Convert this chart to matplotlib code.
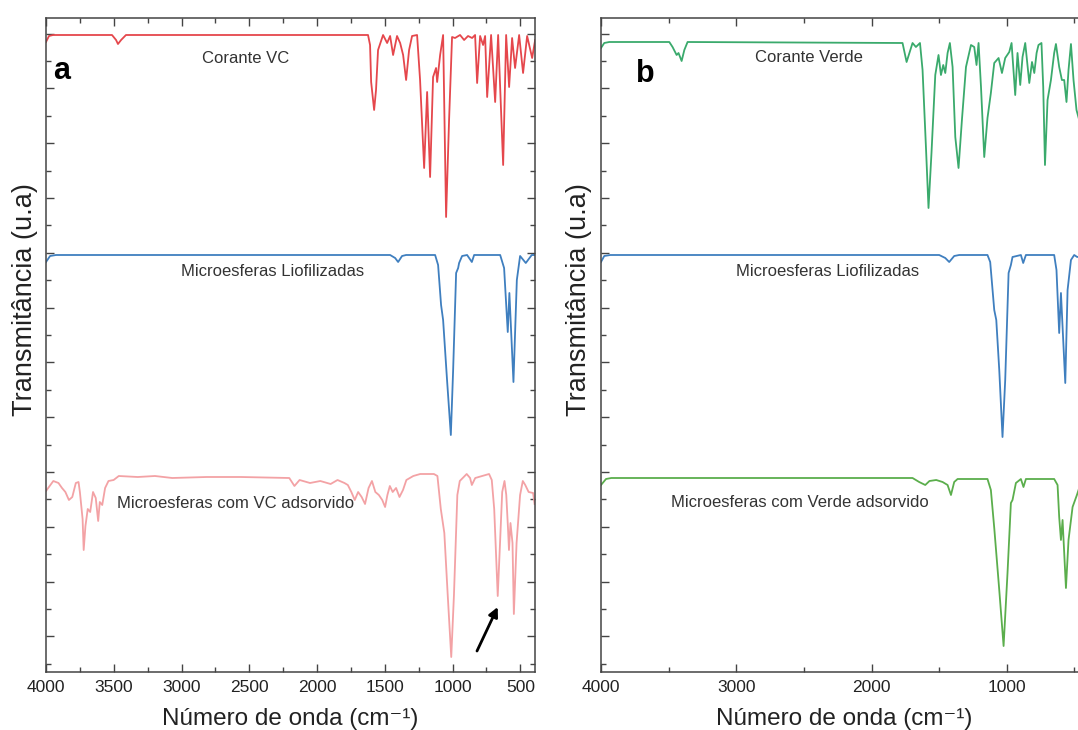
import numpy as np
import matplotlib
matplotlib.use("Agg")
import matplotlib.pyplot as plt
from matplotlib.ticker import MultipleLocator, FixedLocator

plt.rcParams['font.family'] = ['Liberation Sans', 'DejaVu Sans']

# ---------------- spectra (wavenumber cm-1, transmittance a.u.) ----------------
# Panel a
wn_vc = [4000, 3978, 3948, 3513, 3483, 3469, 3446, 3410, 1624, 1609, 1601, 1579, 1565, 1550,
         1513, 1483, 1461, 1439, 1410, 1387, 1365, 1343, 1321, 1299, 1262, 1240, 1210, 1188,
         1166, 1144, 1122, 1114, 1092, 1070, 1048, 1026, 1004, 982, 945, 915, 886, 856, 834,
         819, 797, 775, 760, 745, 716, 686, 664, 627, 605, 583, 561, 539, 509, 480, 450, 413, 391]
t_vc = [63.0, 63.6, 63.7, 63.7, 63.2, 62.8, 63.2, 63.7, 63.7, 62.7, 59.0, 56.2, 58.2, 62.2,
        63.7, 62.9, 63.6, 61.7, 63.6, 62.9, 61.7, 59.2, 62.2, 63.6, 63.7, 59.2, 50.4, 58.0,
        49.5, 59.5, 60.4, 59.0, 61.7, 63.7, 45.5, 55.2, 63.5, 63.4, 63.7, 63.2, 63.6, 63.4, 63.7,
        58.9, 63.6, 62.7, 63.6, 57.5, 63.7, 57.0, 63.7, 50.7, 63.7, 58.5, 63.4, 60.4, 63.7, 59.9,
        63.6, 61.4, 63.2]

wn_lio_a = [4000, 3970, 3926, 1461, 1424, 1402, 1373, 1343, 1129, 1107, 1085, 1070, 1041, 1013,
            996, 974, 959, 952, 930, 893, 858, 841, 649, 620, 593, 581, 551, 526, 502, 460, 416, 391]
t_lio_a = [41.0, 41.6, 41.7, 41.7, 41.4, 41.0, 41.6, 41.7, 41.7, 40.7, 36.7, 35.2, 29.2, 23.7,
           30.2, 39.9, 40.4, 40.9, 41.6, 41.7, 41.0, 41.7, 41.7, 40.4, 34.0, 37.9, 29.0, 39.2,
           41.6, 40.9, 41.7, 41.7]

wn_vc_ads = [4000, 3946, 3908, 3882, 3857, 3831, 3806, 3780, 3760, 3750, 3730, 3722, 3709, 3692,
             3674, 3653, 3633, 3615, 3603, 3585, 3564, 3539, 3501, 3463, 3323, 3196, 3069, 2815,
             2561, 2205, 2167, 2129, 2052, 1976, 1900, 1849, 1798, 1773, 1747, 1722, 1697, 1671,
             1646, 1620, 1595, 1570, 1544, 1519, 1498, 1481, 1463, 1442, 1417, 1392, 1366, 1341,
             1290, 1239, 1138, 1112, 1087, 1061, 1036, 1010, 990, 965, 947, 896, 871, 858, 833,
             782, 731, 711, 693, 667, 650, 634, 617, 604, 591, 584, 573, 558, 548, 528, 502, 482,
             464, 439, 406, 395]
t_vc_ads = [18.1, 19.1, 18.9, 18.4, 18.0, 17.2, 17.5, 18.9, 19.0, 18.0, 15.3, 12.2, 14.6, 16.3,
            16.0, 18.0, 17.4, 15.1, 17.0, 16.7, 18.4, 19.1, 19.2, 19.6, 19.5, 19.6, 19.4, 19.5,
            19.5, 19.4, 18.6, 19.2, 18.9, 19.1, 18.8, 19.2, 18.9, 18.7, 18.0, 17.2, 18.0, 17.5,
            16.8, 18.4, 19.1, 18.0, 17.7, 17.2, 16.5, 17.7, 18.6, 18.0, 18.4, 17.5, 18.2, 19.2,
            19.6, 19.8, 19.8, 19.6, 16.3, 13.9, 7.7, 1.5, 7.7, 17.7, 19.1, 19.8, 19.4, 18.7, 19.4,
            19.6, 19.8, 19.2, 16.3, 7.6, 12.9, 18.0, 19.1, 17.7, 14.3, 12.2, 14.9, 12.9, 5.8, 12.9,
            17.7, 19.1, 18.7, 18.0, 17.9, 16.8]

# Panel b
wn_verde = [4000, 3976, 3939, 3495, 3471, 3441, 3427, 3404, 3384, 3360, 1771, 1741, 1697, 1672,
            1642, 1623, 1598, 1579, 1557, 1529, 1505, 1487, 1470, 1455, 1438, 1421, 1401, 1381,
            1357, 1332, 1302, 1265, 1241, 1224, 1209, 1191, 1167, 1143, 1118, 1093, 1061, 1036,
            1012, 982, 965, 938, 921, 901, 884, 864, 834, 814, 797, 780, 766, 744, 731, 718, 699,
            674, 650, 637, 613, 593, 576, 559, 544, 526, 507, 485, 465]
t_verde = [62.4, 62.9, 63.0, 63.0, 62.5, 61.7, 61.9, 61.1, 62.2, 63.0, 62.9, 61.0, 62.9, 62.5,
           62.9, 60.2, 52.5, 46.4, 51.9, 59.7, 61.7, 59.7, 60.7, 59.9, 61.9, 62.9, 60.5, 53.5,
           50.4, 55.2, 60.5, 62.7, 62.5, 60.7, 62.9, 58.5, 51.5, 55.4, 57.9, 60.9, 61.4, 59.9,
           61.4, 62.0, 62.9, 57.7, 61.9, 58.7, 61.5, 62.9, 58.9, 61.0, 59.9, 61.9, 62.7, 62.9,
           58.5, 50.7, 57.2, 59.2, 61.9, 62.8, 60.5, 59.2, 59.2, 57.0, 60.2, 62.8, 59.2, 56.2, 55.2]

wn_lio_b = [4000, 3976, 3931, 1500, 1455, 1426, 1389, 1352, 1143, 1123, 1093, 1078, 1056, 1032,
            1012, 987, 970, 958, 896, 879, 859, 650, 633, 613, 600, 568, 551, 526, 502, 480, 428]
t_lio_b = [41.0, 41.6, 41.7, 41.7, 41.4, 41.0, 41.6, 41.7, 41.7, 41.0, 36.2, 35.2, 30.2, 23.5,
           29.2, 39.9, 40.7, 41.5, 41.7, 40.9, 41.7, 41.7, 40.2, 33.9, 37.9, 28.9, 38.2, 41.2,
           41.7, 41.5, 41.6]

wn_verde_ads = [4000, 3963, 3924, 1697, 1648, 1603, 1572, 1522, 1475, 1438, 1413, 1389, 1364,
                1143, 1118, 1093, 1056, 1024, 995, 970, 958, 933, 896, 877, 859, 650, 625, 613,
                600, 588, 563, 544, 514, 482, 465]
t_verde_ads = [18.7, 19.3, 19.4, 19.4, 19.0, 18.7, 19.1, 19.2, 19.0, 18.7, 17.7, 19.0, 19.3,
               19.3, 18.2, 14.4, 8.2, 2.6, 9.9, 16.9, 17.2, 18.9, 19.3, 18.5, 19.3, 19.3, 18.7,
               15.5, 13.2, 15.2, 8.4, 13.2, 16.5, 17.7, 18.4]

# ---------------- figure ----------------
W, H = 1078, 730
fig = plt.figure(figsize=(W / 100, H / 100), dpi=100)

def px_axes(left, right, top, bottom):
    return [left / W, 1 - bottom / H, (right - left) / W, (bottom - top) / H]

ax_a = fig.add_axes(px_axes(46, 535, 18, 672))
ax_b = fig.add_axes(px_axes(601, 1088, 18, 672))

lw = 1.3
ax_a.plot(wn_vc, t_vc, color='#E5474C', lw=lw)
ax_a.plot(wn_lio_a, t_lio_a, color='#3F7FBF', lw=lw)
ax_a.plot(wn_vc_ads, t_vc_ads, color='#F3A2A5', lw=lw)

ax_b.plot(wn_verde, t_verde, color='#3AAA6C', lw=lw)
ax_b.plot(wn_lio_b, t_lio_b, color='#3F7FBF', lw=lw)
ax_b.plot(wn_verde_ads, t_verde_ads, color='#5BAE4C', lw=lw)

ax_a.set_xlim(4000, 392)
ax_b.set_xlim(4000, 400)

ytick_minor = np.arange(0.82, 65.4, 2.74)
ytick_major = ytick_minor[1::2]
for ax in (ax_a, ax_b):
    ax.set_ylim(0, 65.4)
    ax.yaxis.set_major_locator(FixedLocator(ytick_major))
    ax.yaxis.set_minor_locator(FixedLocator(ytick_minor[0::2]))
    ax.set_yticklabels([])
    ax.tick_params(which='both', direction='in', top=True, right=True, color='#444444',
                   labelsize=12.5, labelcolor='#222222', pad=6)
    ax.tick_params(which='major', length=6, width=1)
    ax.tick_params(which='minor', length=3.5, width=1)
    for sp in ax.spines.values():
        sp.set_color('#444444')
        sp.set_linewidth(1.1)
    ax.set_xlabel('Número de onda (cm⁻¹)', fontsize=17.5, color='#222222', labelpad=9)
    ax.set_ylabel('Transmitância (u.a)', fontsize=19.5, color='#222222')
    ax.yaxis.label.set_verticalalignment('center')

ax_a.xaxis.set_major_locator(MultipleLocator(500))
ax_a.xaxis.set_minor_locator(MultipleLocator(250))
ax_b.xaxis.set_major_locator(MultipleLocator(1000))
ax_b.xaxis.set_minor_locator(MultipleLocator(500))

ax_a.yaxis.set_label_coords(-0.043, 0.569)
ax_b.yaxis.set_label_coords(-0.045, 0.569)

# panel letters
ax_a.text(0.014, 0.907, 'a', transform=ax_a.transAxes, fontsize=22, fontweight='bold',
          ha='left', va='baseline', color='black')
ax_b.text(0.072, 0.902, 'b', transform=ax_b.transAxes, fontsize=22, fontweight='bold',
          ha='left', va='baseline', color='black')

# curve names
tc = '#333333'
fs = 12
ax_a.text(2524, 61.4, 'Corante VC', fontsize=fs, color=tc, ha='center', va='center')
ax_a.text(2328, 40.1, 'Microesferas Liofilizadas', fontsize=fs, color=tc, ha='center', va='center')
ax_a.text(2598, 16.9, 'Microesferas com VC adsorvido', fontsize=fs, color=tc, ha='center', va='center')
ax_b.text(2460, 61.45, 'Corante Verde', fontsize=fs, color=tc, ha='center', va='center')
ax_b.text(2328, 40.1, 'Microesferas Liofilizadas', fontsize=fs, color=tc, ha='center', va='center')
ax_b.text(2531, 16.95, 'Microesferas com Verde adsorvido', fontsize=fs, color=tc, ha='center', va='center')

# arrow pointing to the new band of the adsorbed sample
ax_a.annotate('', xy=(667, 6.5), xytext=(820, 2.1),
              arrowprops=dict(arrowstyle='-|>', color='black', lw=2, mutation_scale=14,
                              shrinkA=0, shrinkB=0))

fig.savefig('out.png', dpi=100)
